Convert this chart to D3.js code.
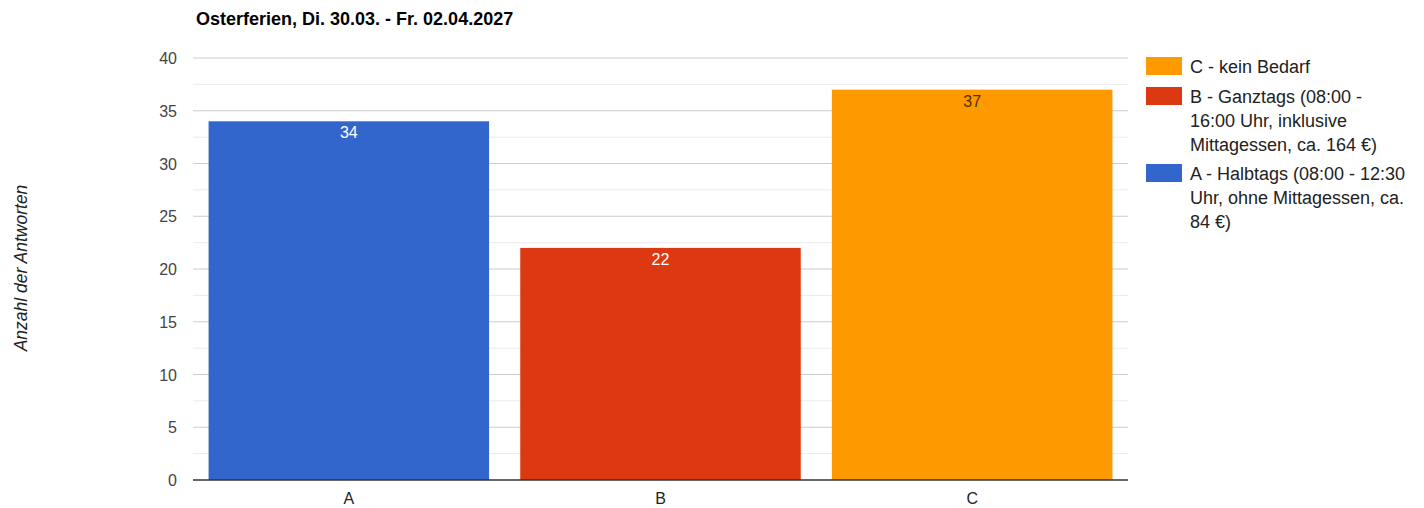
<!DOCTYPE html>
<html><head><meta charset="utf-8">
<script src="https://cdn.jsdelivr.net/npm/d3@7"></script>
<style>body{margin:0;background:#fff;font-family:"Liberation Sans",Arial,sans-serif}</style>
</head><body><svg id="c" width="1424" height="508"></svg>
<script>
const title = "Osterferien, Di. 30.03. - Fr. 02.04.2027";
const yTitle = "Anzahl der Antworten";
const categories = ["A","B","C"];
const seriesNames = ["A","B","C"];
const seriesA = [34,0,0];
const seriesB = [0,22,0];
const seriesC = [0,0,37];
const seriesColors = ["#3366cc","#dc3912","#ff9900"];
const labelColors = ["#ffffff","#ffffff","#4d3300"];
const yTicks = [0,5,10,15,20,25,30,35,40];
const legendLines = [
  ["C - kein Bedarf"],
  ["B - Ganztags (08:00 -","16:00 Uhr, inklusive","Mittagessen, ca. 164 €)"],
  ["A - Halbtags (08:00 - 12:30","Uhr, ohne Mittagessen, ca.","84 €)"]
];
const legendSeries = [2,1,0];

const svg = d3.select("#c");
const m = {l:193, r:1128, t:58, b:480};
const x = d3.scaleBand().domain(categories).range([m.l,m.r]).paddingInner(0.1).paddingOuter(0.05);
const y = d3.scaleLinear().domain([0,40]).range([m.b,m.t]);

// minor grid
const minor = d3.range(2.5,40,5);
svg.append("g").selectAll("line").data(minor).join("line")
  .attr("x1",m.l).attr("x2",m.r).attr("y1",d=>y(d)).attr("y2",d=>y(d))
  .attr("stroke","#ebebeb").attr("stroke-width",1);
svg.append("g").selectAll("line").data(yTicks.filter(d=>d>0)).join("line")
  .attr("x1",m.l).attr("x2",m.r).attr("y1",d=>y(d)).attr("y2",d=>y(d))
  .attr("stroke","#cccccc").attr("stroke-width",1);

const table = categories.map((c,i)=>({cat:c,A:seriesA[i],B:seriesB[i],C:seriesC[i]}));
const stack = d3.stack().keys(seriesNames)(table);
stack.forEach((s,si)=>{
  svg.append("g").selectAll("rect").data(s.filter(d=>d[1]-d[0]>0)).join("rect")
    .attr("x",d=>x(d.data.cat)).attr("width",x.bandwidth())
    .attr("y",d=>y(d[1])).attr("height",d=>y(d[0])-y(d[1]))
    .attr("fill",seriesColors[si]);
  svg.append("g").selectAll("text").data(s.filter(d=>d[1]-d[0]>0)).join("text")
    .attr("x",d=>x(d.data.cat)+x.bandwidth()/2).attr("y",d=>y(d[1])+17)
    .attr("text-anchor","middle").attr("font-size",16).attr("fill",labelColors[si])
    .text(d=>d[1]-d[0]);
});

// baseline
svg.append("line").attr("x1",m.l).attr("x2",m.r).attr("y1",y(0)).attr("y2",y(0))
  .attr("stroke","#333").attr("stroke-width",1.5);

// y tick labels
svg.append("g").selectAll("text").data(yTicks).join("text")
  .attr("x",177).attr("y",d=>y(d)+6).attr("text-anchor","end")
  .attr("font-size",16).attr("fill","#444").text(d=>d);
// x labels
svg.append("g").selectAll("text").data(categories).join("text")
  .attr("x",d=>x(d)+x.bandwidth()/2).attr("y",504).attr("text-anchor","middle")
  .attr("font-size",16).attr("fill","#222").text(d=>d);

// title
svg.append("text").attr("x",196).attr("y",25).attr("font-size",18).attr("font-weight","bold")
  .attr("fill","#000").text(title);
// y title
svg.append("text").attr("transform","translate(27,268) rotate(-90)").attr("text-anchor","middle")
  .attr("font-size",17.5).attr("font-style","italic").attr("fill","#222").text(yTitle);

// legend
const lg = svg.append("g");
const rowY = [57,87,164];
legendLines.forEach((lines,i)=>{
  lg.append("rect").attr("x",1146).attr("y",rowY[i]).attr("width",36).attr("height",18)
    .attr("fill",seriesColors[legendSeries[i]]);
  lines.forEach((t,j)=>{
    lg.append("text").attr("x",1190).attr("y",rowY[i]+16+j*24)
      .attr("font-size",18).attr("fill","#222").text(t);
  });
});
</script></body></html>
